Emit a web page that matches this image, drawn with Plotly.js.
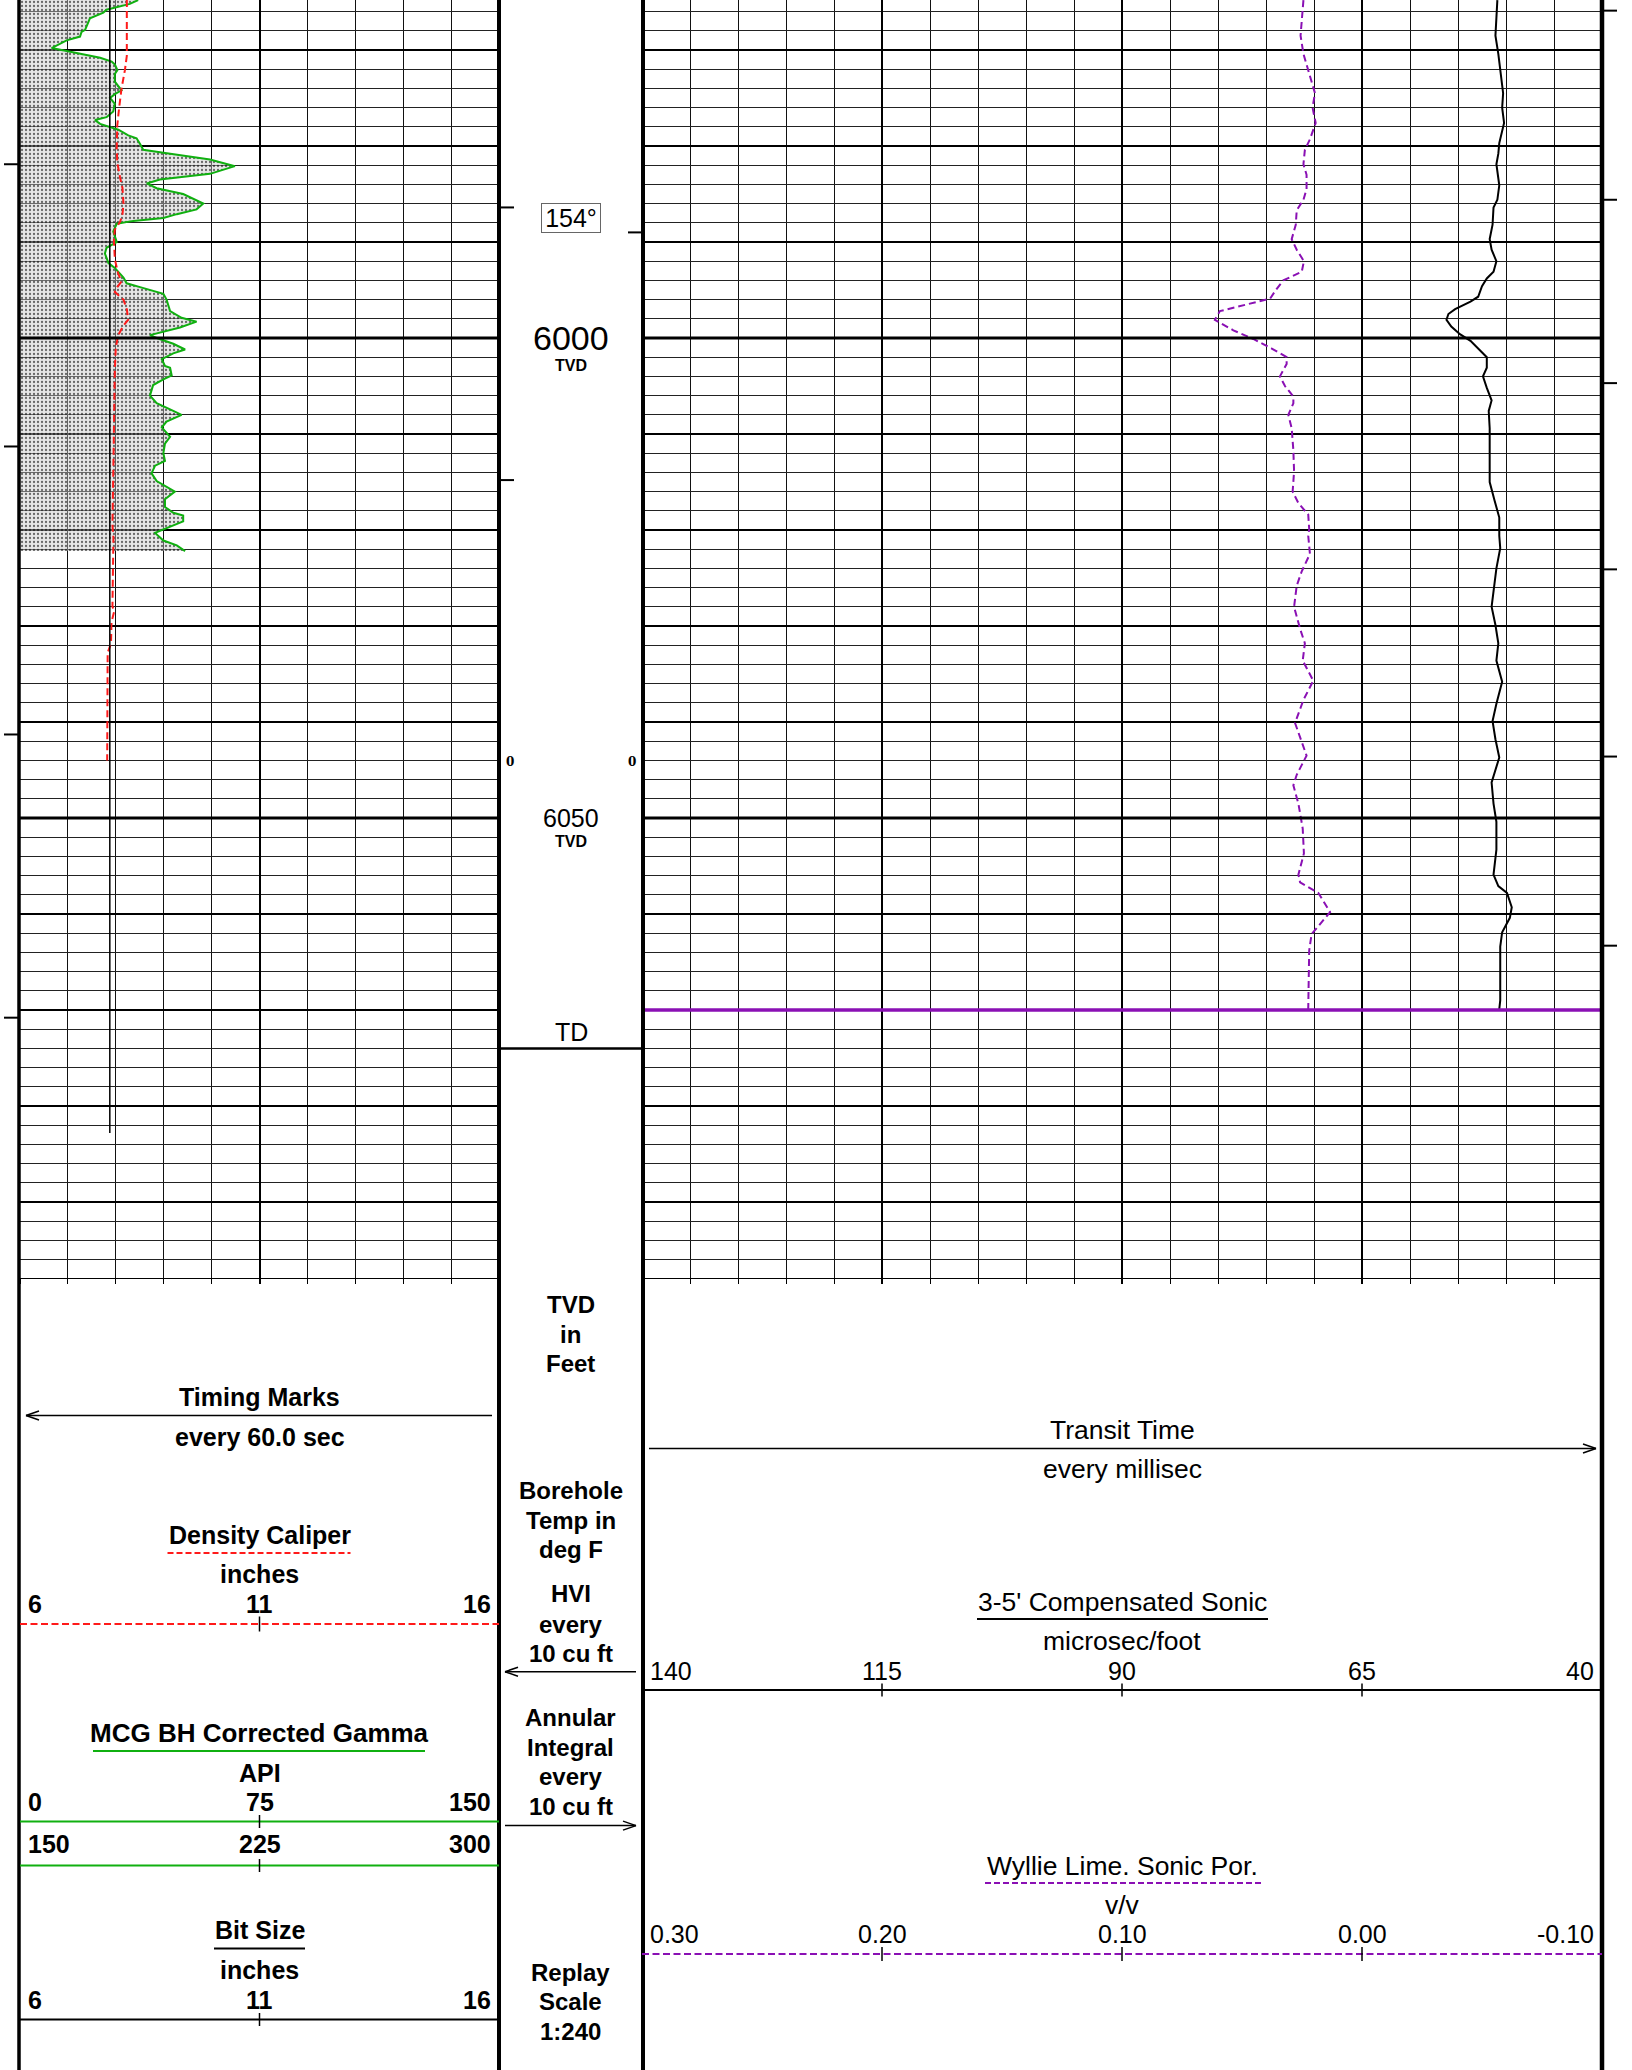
<!DOCTYPE html>
<html>
<head>
<meta charset="utf-8">
<script src="https://cdn.plot.ly/plotly-3.0.1.min.js"></script>
<style>
  html, body { margin: 0; padding: 0; background: #fff; }
  #chart { width: 1632px; height: 2070px; }
</style>
</head>
<body>
<div id="chart"></div>
<script>
// MCG BH Corrected Gamma (API), track 1, scale 0-150
const gammaDepth = [5964.8,5965.2,5965.8,5966.1,5966.7,5967.3,5967.9,5968.1,5968.6,5969.0,5969.8,5970.1,5970.8,5971.2,5971.5,5972.1,5972.5,5973.3,5974.2,5974.6,5975.0,5975.6,5976.4,5977.0,5977.3,5977.7,5978.3,5978.9,5979.2,5979.8,5980.4,5980.7,5981.4,5982.1,5982.9,5983.5,5983.9,5984.4,5985.0,5986.0,5986.6,5987.1,5987.5,5987.8,5988.1,5988.9,5990.0,5990.6,5991.2,5992.2,5992.7,5993.7,5994.3,5994.7,5995.4,5996.0,5997.2,5997.9,5998.3,5998.9,5999.7,6000.0,6000.6,6001.2,6001.6,6002.2,6002.9,6003.1,6003.9,6004.3,6004.9,6006.0,6006.8,6007.6,6008.0,6008.7,6009.3,6010.3,6011.0,6012.0,6012.8,6013.3,6014.1,6014.9,6015.7,6016.0,6016.8,6017.6,6018.2,6018.5,6019.1,6019.5,6020.3,6021.1,6021.6,6022.2];
const gammaAPI = [37.0,34.4,27.1,26.1,21.9,21.1,20.4,19.3,18.8,14.6,9.9,14.6,25.1,28.7,29.7,30.5,29.7,29.7,31.8,29.7,28.2,29.7,29.2,27.1,23.5,25.1,30.8,33.9,36.5,37.6,38.6,44.9,59.5,67.3,59.5,43.8,39.7,42.8,51.1,57.4,55.3,49.1,44.9,35.5,30.3,29.2,30.3,27.1,26.6,27.7,29.7,32.4,33.4,37.6,44.9,45.9,47.0,50.6,55.3,50.1,40.7,42.8,48.0,51.7,48.0,44.4,45.4,47.0,47.5,44.9,41.7,40.7,42.8,48.0,50.6,45.9,44.4,47.0,45.4,44.9,45.4,42.3,41.2,42.8,47.0,48.5,45.4,45.4,48.0,51.1,51.1,48.0,42.3,44.9,49.1,51.7];

// Density Caliper (inches), scale 6-16
const caliperDepth = [5964.8,5970.6,5972.1,5974.0,5976.0,5977.9,5980.2,5981.7,5983.3,5984.4,5986.0,5987.1,5987.9,5988.7,5989.8,5991.8,5993.3,5994.1,5994.7,5995.2,5996.0,5997.0,5998.1,5998.7,5999.7,6001.0,6003.3,6007.2,6011.0,6014.9,6019.5,6020.8,6028.0,6028.4,6029.6,6031.8,6032.8,6044.0];
const caliperIn = [8.23,8.23,8.19,8.12,8.07,8.03,8.02,8.03,8.09,8.14,8.16,8.14,8.09,7.98,7.96,7.98,8.05,8.12,8.03,7.98,8.16,8.23,8.26,8.16,8.05,8.00,7.98,7.97,7.96,7.95,7.93,7.95,7.93,7.97,7.91,7.90,7.83,7.82];

// Bit Size (inches), scale 6-16
const bitDepth = [5964.8, 6082.8];
const bitIn = [7.875, 7.875];

// 3-5' Compensated Sonic (microsec/foot), scale 140-40
const sonicDepth = [5964.8,5967.0,5968.5,5970.4,5972.2,5974.5,5976.0,5977.6,5979.7,5980.8,5981.9,5984.1,5985.6,5986.4,5988.2,5989.7,5990.8,5992.0,5993.1,5993.8,5994.6,5995.7,5996.2,5997.0,5997.5,5998.1,5998.8,5999.6,6000.3,6001.3,6002.0,6003.1,6004.0,6005.2,6006.5,6007.6,6009.4,6011.7,6015.0,6016.9,6018.7,6020.6,6021.9,6024.0,6026.2,6028.0,6029.9,6031.8,6033.6,6035.8,6038.1,6039.9,6041.8,6043.7,6046.3,6048.5,6050.4,6053.3,6055.9,6057.1,6057.8,6059.3,6060.4,6061.9,6063.4,6069.0,6069.9];
const sonicDT = [50.9,51.0,51.1,50.8,50.6,50.3,50.4,50.2,50.7,50.8,51.0,50.7,50.9,51.3,51.4,51.7,51.5,51.0,51.3,52.0,52.5,52.9,53.7,55.3,56.0,56.2,55.7,54.8,53.7,52.7,52.0,52.0,52.4,52.0,51.5,51.8,51.7,51.7,51.7,51.2,50.7,50.7,50.6,51.0,51.3,51.5,51.1,50.8,51.0,50.4,51.0,51.4,51.1,50.7,51.5,51.3,51.0,51.0,51.3,50.8,49.9,49.4,49.6,50.4,50.6,50.6,50.7];

// Wyllie Lime. Sonic Por. (v/v), scale 0.30 to -0.10
const porDepth = [5964.8,5966.6,5968.5,5970.4,5972.2,5974.5,5976.0,5977.6,5979.3,5980.4,5981.9,5983.0,5984.5,5985.6,5986.7,5988.2,5989.7,5990.8,5992.0,5993.1,5994.0,5994.9,5995.9,5996.4,5997.2,5998.1,5999.2,6000.1,6001.1,6002.0,6002.7,6004.0,6005.0,6006.1,6006.8,6008.0,6009.4,6011.7,6013.9,6016.0,6017.2,6018.4,6019.9,6020.6,6021.7,6022.5,6024.3,6025.8,6028.0,6030.3,6031.8,6033.6,6035.7,6037.7,6040.1,6043.5,6045.5,6046.6,6048.5,6051.1,6053.7,6055.9,6056.7,6057.8,6059.8,6060.6,6062.1,6063.8,6069.9];
const porVV = [0.0244,0.0251,0.0256,0.0244,0.0224,0.0196,0.0206,0.0193,0.0217,0.0238,0.0244,0.0231,0.0231,0.0244,0.0272,0.0276,0.0293,0.0272,0.0242,0.0251,0.0328,0.0356,0.0383,0.0467,0.0592,0.0613,0.0536,0.0453,0.0376,0.0314,0.0314,0.0342,0.0321,0.0286,0.0286,0.0307,0.0293,0.0286,0.0283,0.0289,0.0265,0.0224,0.0220,0.0224,0.0220,0.0217,0.0251,0.0272,0.0283,0.0258,0.0238,0.0247,0.0203,0.0244,0.0279,0.0231,0.0272,0.0286,0.0265,0.0247,0.0242,0.0265,0.0258,0.0182,0.0133,0.0161,0.0210,0.0220,0.0224];
// porosity trace below end of data (pegged at left edge of scale)
const porTailDepth = [6070.0, 6082.8];
const porTailVV = [0.30, 0.30];

// Marks and depth annotations
const timingMarkDepths = [5981.9, 6011.3, 6041.3, 6070.8];
const transitMarkDepths = [5965.9, 5985.6, 6004.7, 6024.1, 6043.6, 6063.3];
const hviMarkDepths = [5986.4, 6014.8];
const annularMarkDepths = [5989.0];
const integralZeroDepths = [6044.2];
const depthLabels = [6000, 6050];
const depthLabelSizes = [34, 25];
const tempDepths = [5987.5];
const tempValues = [154];
const dataEndDepth = 6070;
const tdDepth = 6074;

// Header scale labels
const caliperTicks = ['6', '11', '16'];
const gammaTicks1 = ['0', '75', '150'];
const gammaTicks2 = ['150', '225', '300'];
const bitTicks = ['6', '11', '16'];
const sonicTicks = ['140', '115', '90', '65', '40'];
const porTicks = ['0.30', '0.20', '0.10', '0.00', '-0.10'];

// ---------------- LAYOUT GEOMETRY ----------------
const W = 1632, H = 2070;
const L0 = 20, L1 = 499, R0 = 642, R1 = 1602, GRID_BOTTOM = 1278;
const PX_PER_FT = 9.6, DEPTH_TOP = 6000 - 338 / PX_PER_FT;
const DEPTH_BOTTOM = DEPTH_TOP + GRID_BOTTOM / PX_PER_FT;
const px = x => x / W;
const py = y => 1 - y / H;

const BOLD = 'Liberation Sans, Arial, sans-serif';
const REG = 'Liberation Sans, Arial, sans-serif';
const PURPLE = '#8a10b4';
const GREEN = '#10b010';
const RED = '#ff1a1a';

const traces = [
  { x: gammaAPI, y: gammaDepth, xaxis: 'x', yaxis: 'y', type: 'scatter', mode: 'lines',
    line: { color: GREEN, width: 2 }, fill: 'tozerox',
    fillpattern: { shape: '.', fgcolor: '#000', fgopacity: 0.55, bgcolor: 'rgba(200,200,200,0.45)', size: 4, solidity: 0.25 },
    hoverinfo: 'skip' },
  { x: caliperIn, y: caliperDepth, xaxis: 'x2', yaxis: 'y', type: 'scatter', mode: 'lines',
    line: { color: RED, width: 2, dash: '7px,4px' }, hoverinfo: 'skip' },
  { x: bitIn, y: bitDepth, xaxis: 'x2', yaxis: 'y', type: 'scatter', mode: 'lines',
    line: { color: '#000', width: 1.5 }, hoverinfo: 'skip' },
  { x: sonicDT, y: sonicDepth, xaxis: 'x3', yaxis: 'y2', type: 'scatter', mode: 'lines',
    line: { color: '#000', width: 2 }, hoverinfo: 'skip' },
  { x: porVV, y: porDepth, xaxis: 'x4', yaxis: 'y2', type: 'scatter', mode: 'lines',
    line: { color: PURPLE, width: 2, dash: '7px,4px' }, hoverinfo: 'skip' },
  { x: porTailVV, y: porTailDepth, xaxis: 'x4', yaxis: 'y2', type: 'scatter', mode: 'lines',
    line: { color: PURPLE, width: 2, dash: '7px,4px' }, cliponaxis: false, hoverinfo: 'skip' }
];

const yCommon = {
  domain: [py(GRID_BOTTOM), 1], range: [DEPTH_BOTTOM, DEPTH_TOP],
  showticklabels: false, zeroline: false, showline: false,
  tick0: 6000, dtick: 10, showgrid: true, gridcolor: '#000', gridwidth: 2,
  minor: { tick0: 6000, dtick: 2, showgrid: true, gridcolor: '#222', gridwidth: 1 },
  fixedrange: true
};
const xGrid = (dtick, tick0, mdtick) => ({
  showticklabels: false, zeroline: false, showgrid: true, gridcolor: '#000', gridwidth: 2,
  tick0: tick0, dtick: dtick, ticks: 'outside', ticklen: 5, tickwidth: 2, tickcolor: '#000',
  showline: true, linecolor: '#000', linewidth: 1,
  minor: { tick0: tick0, dtick: mdtick, showgrid: true, gridcolor: '#111', gridwidth: 1,
           ticks: 'outside', ticklen: 5, tickwidth: 1, tickcolor: '#000' },
  fixedrange: true
});

const layout = {
  width: W, height: H, margin: { l: 0, r: 0, t: 0, b: 0 },
  paper_bgcolor: '#fff', plot_bgcolor: '#fff', showlegend: false,
  xaxis: Object.assign({ domain: [px(L0), px(L1)], range: [0, 150], anchor: 'y' }, xGrid(75, 0, 15)),
  xaxis2: { overlaying: 'x', anchor: 'y', range: [6, 16], visible: false, fixedrange: true },
  yaxis: Object.assign({ anchor: 'x' }, yCommon),
  xaxis3: Object.assign({ domain: [px(R0), px(R1)], range: [140, 40], anchor: 'y2' }, xGrid(25, 40, 5)),
  xaxis4: { overlaying: 'x3', anchor: 'y2', range: [0.30, -0.10], visible: false, fixedrange: true },
  yaxis2: Object.assign({ anchor: 'x3' }, yCommon),
  shapes: [],
  annotations: []
};

const S = layout.shapes, A = layout.annotations;

// heavy 50-ft depth lines in both tracks
depthLabels.forEach(d => {
  S.push({ type: 'line', xref: 'x domain', yref: 'y', x0: 0, x1: 1, y0: d, y1: d, line: { color: '#000', width: 3 } });
  S.push({ type: 'line', xref: 'x3 domain', yref: 'y2', x0: 0, x1: 1, y0: d, y1: d, line: { color: '#000', width: 3 } });
});
// end-of-data line in track 2
S.push({ type: 'line', xref: 'x3 domain', yref: 'y2', x0: 0, x1: 1, y0: dataEndDepth, y1: dataEndDepth, line: { color: PURPLE, width: 3.5 } });
// TD line in depth column
S.push({ type: 'line', xref: 'paper', yref: 'y', x0: px(L1), x1: px(R0), y0: tdDepth, y1: tdDepth, line: { color: '#000', width: 2.5 } });

// track borders (full page height)
[[19, 3.5], [499, 4], [643, 4], [1602, 4.5]].forEach(([x, w]) => {
  S.push({ type: 'line', xref: 'paper', yref: 'paper', x0: px(x), x1: px(x), y0: 0, y1: 1, line: { color: '#000', width: w } });
});

// edge marks
const mark = (d, x0, x1) => ({ type: 'line', xref: 'paper', yref: 'y', x0: px(x0), x1: px(x1), y0: d, y1: d, line: { color: '#000', width: 2 } });
timingMarkDepths.forEach(d => S.push(mark(d, 4, 20)));
transitMarkDepths.forEach(d => S.push(mark(d, 1602, 1617)));
hviMarkDepths.forEach(d => S.push(mark(d, 499, 514)));
annularMarkDepths.forEach(d => S.push(mark(d, 628, 643)));

// ---------------- HEADER ----------------
const hline = (x0, x1, y, color, width, dash) => S.push({ type: 'line', xref: 'paper', yref: 'paper',
  x0: px(x0), x1: px(x1), y0: py(y), y1: py(y), line: { color: color, width: width, dash: dash || 'solid' } });
const vtick = (x, y0, y1) => S.push({ type: 'line', xref: 'paper', yref: 'paper',
  x0: px(x), x1: px(x), y0: py(y0), y1: py(y1), line: { color: '#000', width: 1.5 } });
const arrow = (x0, x1, y, headAtLeft) => {
  hline(x0, x1, y, '#000', 1.5);
  const tip = headAtLeft ? x0 : x1, back = headAtLeft ? x0 + 13 : x1 - 13;
  S.push({ type: 'line', xref: 'paper', yref: 'paper', x0: px(tip), x1: px(back), y0: py(y), y1: py(y - 4.5), line: { color: '#000', width: 1.5 } });
  S.push({ type: 'line', xref: 'paper', yref: 'paper', x0: px(tip), x1: px(back), y0: py(y), y1: py(y + 4.5), line: { color: '#000', width: 1.5 } });
};
const txt = (x, y, s, size, bold, anchor) => A.push({
  xref: 'paper', yref: 'paper', x: px(x), y: py(y), text: bold ? '<b>' + s + '</b>' : s,
  showarrow: false, xanchor: anchor || 'center', yanchor: 'middle',
  font: { family: bold ? BOLD : REG, size: size, color: '#000' }
});
const scaleLabels = (labels, xl, xr, y, size, bold) => {
  const n = labels.length;
  labels.forEach((s, i) => {
    const x = xl + (xr - xl) * i / (n - 1);
    if (i === 0) txt(x + 6, y, s, size, bold, 'left');
    else if (i === n - 1) txt(x - 6, y, s, size, bold, 'right');
    else txt(x, y, s, size, bold, 'center');
  });
};
const midTicks = (labels, xl, xr, y0, y1) => {
  const n = labels.length;
  for (let i = 1; i < n - 1; i++) vtick(xl + (xr - xl) * i / (n - 1), y0, y1);
};

const LC = (L0 + L1) / 2, RC = (R0 + R1) / 2, MC = (L1 + R0) / 2;
const FS = 25;     // track-1 header (bold)
const FM = 24;     // depth column header (bold)
const FR = 26.5;   // track-2 header (regular)

// Track 1 header
txt(LC, 1397, 'Timing Marks', FS, true);
arrow(26, 492, 1415.5, true);
txt(LC, 1437, 'every 60.0 sec', FS, true);

txt(LC, 1535, 'Density Caliper', FS, true);
hline(167.5, 350.5, 1553, RED, 2, '6px,3px');
txt(LC, 1574, 'inches', FS, true);
scaleLabels(caliperTicks, L0, L1, 1604, FS, true);
hline(L0, L1, 1624, RED, 2, '7px,3.5px');
midTicks(caliperTicks, L0, L1, 1616.5, 1631.5);

txt(LC, 1733, 'MCG BH Corrected Gamma', 26, true);
hline(93, 425, 1751, GREEN, 2);
txt(LC, 1772.5, 'API', FS, true);
scaleLabels(gammaTicks1, L0, L1, 1802, FS, true);
hline(L0, L1, 1821.5, GREEN, 2);
midTicks(gammaTicks1, L0, L1, 1815, 1828);
scaleLabels(gammaTicks2, L0, L1, 1844, FS, true);
hline(L0, L1, 1865.5, GREEN, 2);
midTicks(gammaTicks2, L0, L1, 1859, 1872);

txt(LC, 1930.5, 'Bit Size', FS, true);
hline(214, 305, 1948.5, '#000', 2);
txt(LC, 1970, 'inches', FS, true);
scaleLabels(bitTicks, L0, L1, 2000, FS, true);
hline(L0, L1, 2019.5, '#000', 2);
midTicks(bitTicks, L0, L1, 2013, 2026);

// Depth column header
[['TVD', 1304], ['in', 1334.5], ['Feet', 1363.5],
 ['Borehole', 1490], ['Temp in', 1520], ['deg F', 1549],
 ['HVI', 1593], ['every', 1624], ['10 cu ft', 1653],
 ['Annular', 1717], ['Integral', 1747], ['every', 1776.5], ['10 cu ft', 1806],
 ['Replay', 1972], ['Scale', 2001], ['1:240', 2031]].forEach(([s, y]) => txt(MC, y, s, FM, true));
arrow(505, 636, 1671.7, true);
arrow(505, 636, 1825.6, false);

// Track 2 header
txt(RC, 1429.5, 'Transit Time', FR, false);
arrow(649, 1596, 1448.5, false);
txt(RC, 1469, 'every millisec', FR, false);

txt(RC, 1602, "3-5' Compensated Sonic", FR, false);
hline(977, 1268, 1619, '#000', 2);
txt(RC, 1641, 'microsec/foot', FR, false);
scaleLabels(sonicTicks, R0, R1, 1670.5, 25, false);
hline(R0, R1, 1690, '#000', 2);
midTicks(sonicTicks, R0, R1, 1683.5, 1696.5);

txt(RC, 1865.5, 'Wyllie Lime. Sonic Por.', FR, false);
hline(985, 1262, 1883, PURPLE, 2, '6px,3px');
txt(RC, 1904.5, 'v/v', FR, false);
scaleLabels(porTicks, R0, R1, 1934, 25, false);
hline(R0, R1, 1954, PURPLE, 2, '7px,3.5px');
midTicks(porTicks, R0, R1, 1947, 1961);

// ---------------- DEPTH COLUMN ANNOTATIONS ----------------
depthLabels.forEach((d, i) => {
  A.push({ xref: 'paper', yref: 'y', x: px(571), y: d, text: String(d), showarrow: false,
    xanchor: 'center', yanchor: 'middle', font: { family: REG, size: depthLabelSizes[i], color: '#000' } });
  A.push({ xref: 'paper', yref: 'y', x: px(571), y: d, yshift: i === 0 ? -27 : -23, text: '<b>TVD</b>', showarrow: false,
    xanchor: 'center', yanchor: 'middle', font: { family: REG, size: 16, color: '#000' } });
});
tempDepths.forEach((d, i) => {
  A.push({ xref: 'paper', yref: 'y', x: px(571), y: d, text: tempValues[i] + '°', showarrow: false,
    xanchor: 'center', yanchor: 'middle', width: 56, height: 26, borderpad: 1,
    bordercolor: '#666', borderwidth: 1, bgcolor: '#fff',
    font: { family: REG, size: 25, color: '#000' } });
});
integralZeroDepths.forEach(d => {
  [510, 632].forEach(x => A.push({ xref: 'paper', yref: 'y', x: px(x), y: d, text: '<b>0</b>', showarrow: false,
    xanchor: 'center', yanchor: 'middle', font: { family: 'DejaVu Serif, serif', size: 12, color: '#000' } }));
});
A.push({ xref: 'paper', yref: 'y', x: px(571), y: tdDepth, yshift: 16, text: 'TD', showarrow: false,
  xanchor: 'center', yanchor: 'middle', font: { family: REG, size: 25, color: '#000' } });

Plotly.newPlot('chart', traces, layout, { staticPlot: true, displayModeBar: false });
</script>
</body>
</html>
